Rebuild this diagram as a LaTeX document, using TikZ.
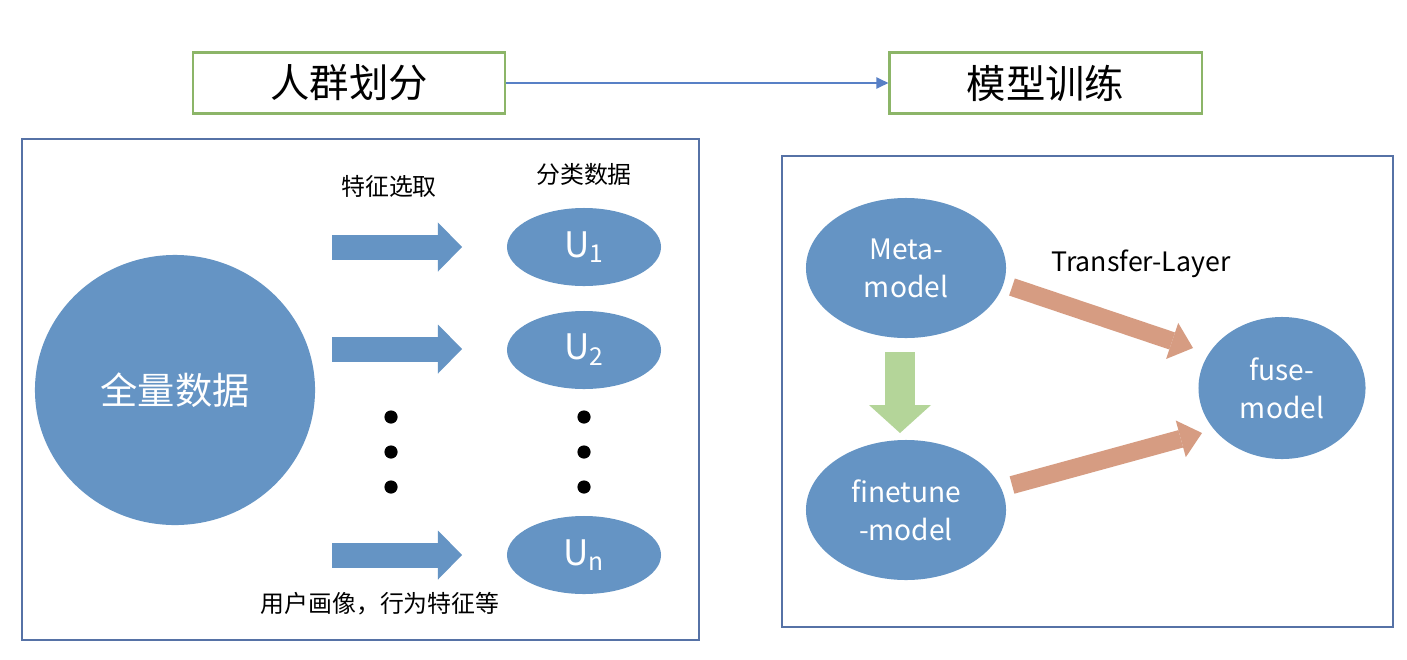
\documentclass[tikz,border=0pt]{standalone}
\usepackage{fontspec}
\setmainfont{Noto Sans CJK SC}
\usetikzlibrary{arrows.meta, shapes.geometric}

\definecolor{nodeblue}{RGB}{101,148,196}
\definecolor{boxgreen}{RGB}{140,181,104}
\definecolor{panelblue}{RGB}{86,114,166}
\definecolor{lineblue}{RGB}{88,128,198}
\definecolor{arrowgreen}{RGB}{180,213,153}
\definecolor{arrowtan}{RGB}{214,156,130}

\tikzset{
  titlebox/.style={draw=boxgreen, line width=1.5pt, minimum width=7.8cm, minimum height=1.525cm,
    font=\fontsize{28}{32}\selectfont},
  panel/.style={draw=panelblue, line width=1.4pt},
  blob/.style={ellipse, fill=nodeblue, text=white, align=center, inner sep=0pt},
  ublob/.style={blob, minimum width=3.85cm, minimum height=1.95cm, font=\fontsize{25}{28}\selectfont},
  modelblob/.style={blob, font=\fontsize{20}{27}\selectfont},
  dot/.style={circle, fill=black, inner sep=0pt, minimum size=0.33cm},
  flowarrow/.style={draw=lineblue, line width=1.1pt, -{Triangle[length=0.3cm, width=0.28cm]}},
  blockarrow/.style={draw=nodeblue, line width=0.625cm, -{Triangle[length=0.6cm, width=1.225cm, line width=0pt]}},
  greenarrow/.style={draw=arrowgreen, line width=0.75cm, -{Triangle[length=0.7cm, width=1.55cm, line width=0pt]}},
  transarrow/.style={draw=arrowtan, line width=0.45cm, -{Triangle[length=0.55cm, width=0.95cm, line width=0pt]}},
  caption/.style={font=\fontsize{17}{20}\selectfont}
}

\begin{document}
\begin{tikzpicture}[x=0.025cm, y=-0.025cm]
    % page and background
    \fill[white] (0,0) rectangle (1407,659);
    \useasboundingbox (0,0) rectangle (1407,659);

    % the two stages
    \node[titlebox] (split) at (349,83) {人群划分};
    \node[titlebox] (train) at (1045.5,83) {模型训练};
    \draw[flowarrow] (split) -- (train);

    % left panel: splitting the users
    \draw[panel] (22,139) rectangle (699,640);
    \node[blob, minimum width=7cm, minimum height=6.75cm, font=\fontsize{26.5}{30}\selectfont] (all) at (175,390) {全量数据};

    \node[caption] (select) at (389,186) {特征选取};
    \node[caption] (classes) at (584,174) {分类数据};

    \node[ublob] (u1) at (584,247) {U\textsubscript{1}};
    \node[ublob] (u2) at (584,350) {U\textsubscript{2}};
    \node[ublob] (un) at (584,555) {U\textsubscript{n}};

    \coordinate (a1s) at (332,247);
    \coordinate (a1e) at (462,247);
    \coordinate (a2s) at (332,349);
    \coordinate (a2e) at (462,349);
    \coordinate (a3s) at (332,555);
    \coordinate (a3e) at (462,555);
    \draw[blockarrow] (a1s) -- (a1e);
    \draw[blockarrow] (a2s) -- (a2e);
    \draw[blockarrow] (a3s) -- (a3e);

    \foreach \y [count=\i] in {417,452,487} {
        \node[dot] (ldot\i) at (391,\y) {};
        \node[dot] (rdot\i) at (584,\y) {};
    }

    \node[caption] (features) at (380,604) {用户画像，行为特征等};

    % right panel: training the models
    \draw[panel] (782,156) rectangle (1393,627);
    \node[modelblob, minimum width=5cm, minimum height=3.5cm] (meta) at (906,268) {Meta-\\model};
    \node[modelblob, minimum width=5cm, minimum height=3.5cm] (finetune) at (906,510) {finetune\\-model};
    \node[modelblob, minimum width=4.175cm, minimum height=3.55cm] (fuse) at (1282,388) {fuse-\\model};

    \node[font=\fontsize{19}{22}\selectfont] (layer) at (1141,264) {Transfer-Layer};

    \coordinate (gs) at (900,352);
    \coordinate (ge) at (900,433);
    \draw[greenarrow] (gs) -- (ge);

    \coordinate (t1s) at (1012,287);
    \coordinate (t1e) at (1193,348);
    \coordinate (t2s) at (1012,485);
    \coordinate (t2e) at (1202,433);
    \draw[transarrow] (t1s) -- (t1e);
    \draw[transarrow] (t2s) -- (t2e);
\end{tikzpicture}
\end{document}
